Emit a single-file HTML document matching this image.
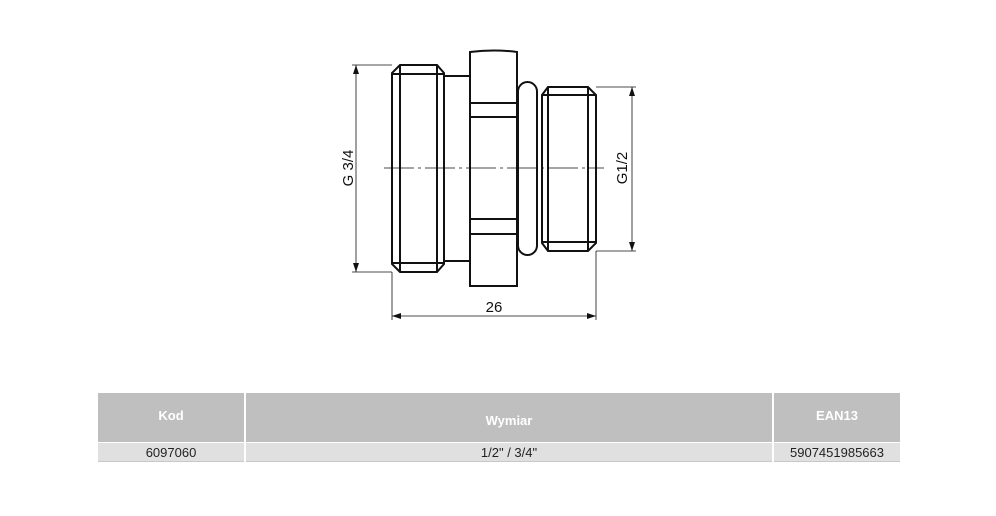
<!DOCTYPE html>
<html><head><style>
body{margin:0;background:#fff;width:996px;height:516px;overflow:hidden;position:relative;font-family:"Liberation Sans",sans-serif}
.c{position:absolute;box-sizing:border-box;text-align:center}
.h{background:#bfbfbf;color:#fff;font-weight:bold;font-size:13px;top:393px;height:49px}
.r{background:#e0e0e0;color:#222;font-size:13px;top:443px;height:19px;line-height:19px;border-bottom:1px solid #c8c8c8}
</style></head><body>
<svg width="996" height="516" style="position:absolute;left:0;top:0" fill="none" stroke="#111">
<g stroke-width="2">
<path d="M400,65 L437,65 L444,73 L444,264 L437,272 L400,272 L392,264 L392,73 Z"/>
<line x1="400" y1="66" x2="400" y2="271"/><line x1="437" y1="66" x2="437" y2="271"/>
<line x1="393" y1="74" x2="443" y2="74"/><line x1="393" y1="263" x2="443" y2="263"/>
<rect x="444" y="76" width="26" height="185"/>
<path d="M470,52 Q494,49 517,52 L517,286 L470,286 Z"/>
<line x1="470" y1="103" x2="517" y2="103"/><line x1="470" y1="117" x2="517" y2="117"/>
<line x1="470" y1="219" x2="517" y2="219"/><line x1="470" y1="234" x2="517" y2="234"/>
<rect x="518" y="82" width="19" height="173" rx="9.5"/>
<path d="M548,87 L588,87 L596,95 L596,243 L588,251 L548,251 L542,243 L542,95 Z"/>
<line x1="548" y1="88" x2="548" y2="250"/><line x1="588" y1="88" x2="588" y2="250"/>
<line x1="543" y1="95" x2="595" y2="95"/><line x1="543" y1="242" x2="595" y2="242"/>
</g>
<g stroke-width="0.8">
<line x1="384" y1="168" x2="604" y2="168" stroke-dasharray="30,4,3,4"/>
<line x1="352" y1="65" x2="392" y2="65"/><line x1="352" y1="272" x2="392" y2="272"/>
<line x1="356" y1="65" x2="356" y2="272"/>
<line x1="596" y1="87" x2="636" y2="87"/><line x1="596" y1="251" x2="636" y2="251"/>
<line x1="632" y1="87" x2="632" y2="251"/>
<line x1="392" y1="272" x2="392" y2="320"/><line x1="596" y1="251" x2="596" y2="320"/>
<line x1="392" y1="316" x2="596" y2="316"/>
</g>
<g fill="#111" stroke="none">
<path d="M356,65 l-3,9 l6,0z"/><path d="M356,272 l-3,-9 l6,0z"/>
<path d="M632,87 l-3,9 l6,0z"/><path d="M632,251 l-3,-9 l6,0z"/>
<path d="M392,316 l9,-3 l0,6z"/><path d="M596,316 l-9,-3 l0,6z"/>
<text x="494" y="312" font-size="15" text-anchor="middle" font-family="Liberation Sans">26</text>
<text transform="translate(353,168) rotate(-90)" font-size="15" text-anchor="middle" font-family="Liberation Sans">G 3/4</text>
<text transform="translate(627,168) rotate(-90)" font-size="15" text-anchor="middle" font-family="Liberation Sans">G1/2</text>
</g>
</svg>
<div class="c h" style="left:98px;width:146px;padding-top:15px">Kod</div>
<div class="c h" style="left:246px;width:526px;padding-top:20px">Wymiar</div>
<div class="c h" style="left:774px;width:126px;padding-top:15px">EAN13</div>
<div class="c r" style="left:98px;width:146px">6097060</div>
<div class="c r" style="left:246px;width:526px">1/2" / 3/4"</div>
<div class="c r" style="left:774px;width:126px">5907451985663</div>
</body></html>
